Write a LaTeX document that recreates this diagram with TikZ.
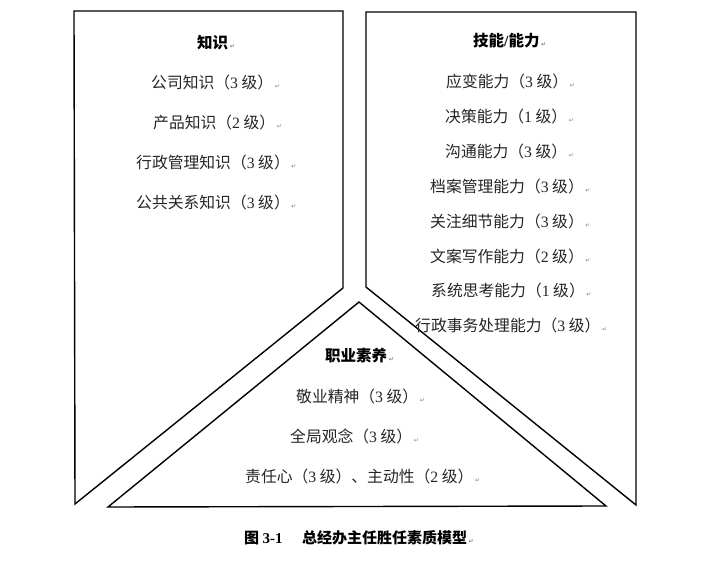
\documentclass[tikz,border=0pt]{standalone}
\usepackage{fontspec}
\setmainfont{Liberation Serif}
\newfontfamily\cjk{Noto Sans CJK SC}
\newfontfamily\retfont{DejaVu Sans}
\newcommand\lat[1]{{\rmfamily #1}}
\newcommand\ret{\hspace{0.1em}{\retfont\fontsize{6}{6}\selectfont\color{gray}↵}}
\begin{document}
\begin{tikzpicture}[x=1pt,y=-1pt,
  panel/.style={draw=black,line width=1.4pt,line join=miter},
  item/.style={anchor=west,inner sep=0pt,font=\cjk\fontsize{15.8}{15.8}\selectfont,text=black!85},
  head/.style={anchor=west,inner sep=0pt,font=\cjk\bfseries\fontsize{15.5}{15.5}\selectfont},
  captext/.style={anchor=west,inner sep=0pt,font=\cjk\bfseries\fontsize{15}{15}\selectfont}]
\useasboundingbox (0,0) rectangle (720,561);
\fill[white] (0,0) rectangle (720,561);
% panels
\draw[panel] (74,11) -- (343,11) -- (343,288) -- (75,504) -- cycle;
\draw[panel] (366,12) -- (636,12) -- (636,505) -- (366,287) -- cycle;
\draw[panel] (359,302) -- (606,506) -- (108,507) -- cycle;
% left panel
\node[head] (k0) at (197,43) {知识\ret};
\node[item] (k1) at (151,82) {公司知识（\lat{3} 级）\ret};
\node[item] (k2) at (153,122) {产品知识（\lat{2} 级）\ret};
\node[item] (k3) at (136,162) {行政管理知识（\lat{3} 级）\ret};
\node[item] (k4) at (136,202) {公共关系知识（\lat{3} 级）\ret};
% right panel
\node[head] (s0) at (473,41) {技能\lat{\bfseries /}能力\ret};
\node[item] (s1) at (446,81) {应变能力（\lat{3} 级）\ret};
\node[item] (s2) at (445,116) {决策能力（\lat{1} 级）\ret};
\node[item] (s3) at (445,151) {沟通能力（\lat{3} 级）\ret};
\node[item] (s4) at (430,186) {档案管理能力（\lat{3} 级）\ret};
\node[item] (s5) at (430,221) {关注细节能力（\lat{3} 级）\ret};
\node[item] (s6) at (430,256) {文案写作能力（\lat{2} 级）\ret};
\node[item] (s7) at (431,290) {系统思考能力（\lat{1} 级）\ret};
\node[item] (s8) at (415,325) {行政事务处理能力（\lat{3} 级）\ret};
% triangle
\node[head] (p0) at (325,356) {职业素养\ret};
\node[item] (p1) at (296,396) {敬业精神（\lat{3} 级）\ret};
\node[item] (p2) at (290,436) {全局观念（\lat{3} 级）\ret};
\node[item] (p3) at (245,476) {责任心（\lat{3} 级）、主动性（\lat{2} 级）\ret};
% caption
\node[captext] (c) at (244,538) {图 \lat{\bfseries 3-1}\hspace{1.3em}总经办主任胜任素质模型\ret};
\end{tikzpicture}
\end{document}
